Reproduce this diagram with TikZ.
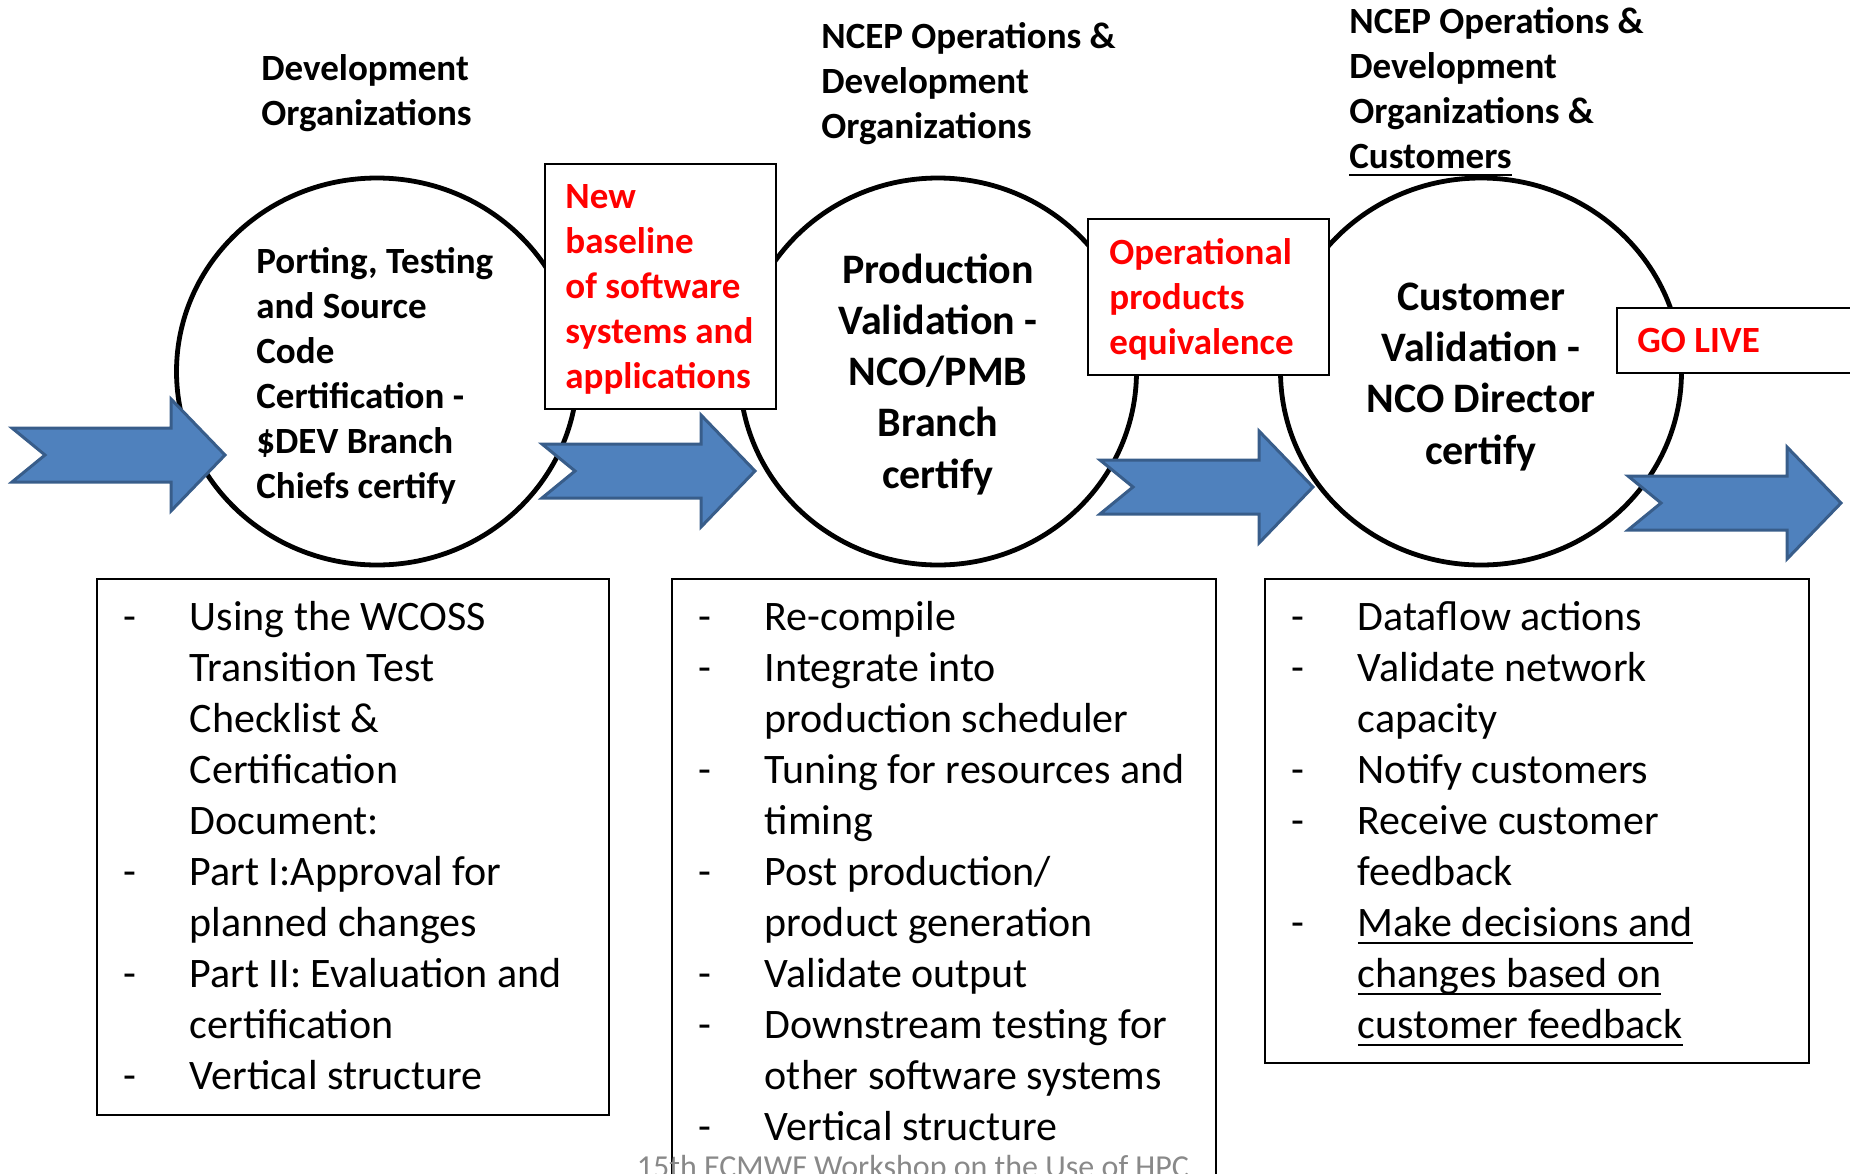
\documentclass[tikz,border=0pt]{standalone}
\usepackage{fontspec}
\setmainfont{Carlito}
\usepackage{tikz}
\usetikzlibrary{matrix, shapes.geometric}
\definecolor{arrowblue}{HTML}{4F81BD}
\definecolor{arrowedge}{HTML}{385D8A}
\definecolor{footgray}{HTML}{898989}
\newcommand{\ulined}[1]{\setbox0\hbox{#1}\rlap{\rule[-4pt]{\wd0}{1.2pt}}\box0}
\tikzset{
  stage/.style={ellipse, draw, line width=2.4pt, fill=white, inner sep=0pt},
  notebox/.style={rectangle, draw, line width=1pt, fill=white, inner sep=0pt},
  listbox/.style={rectangle, draw, line width=1pt, inner sep=0pt},
  headtext/.style={anchor=base west, align=left, inner sep=0pt, font=\bfseries\fontsize{18.5}{22.5}\selectfont},
  redtext/.style={headtext, text=red},
  stagetext/.style={anchor=base, align=center, inner sep=0pt, font=\bfseries\fontsize{21}{25.6}\selectfont},
  bluearrow/.style={fill=arrowblue, draw=arrowedge, line width=1.5pt},
  checklist/.style={matrix of nodes, anchor=north west, inner sep=0pt, column sep=0pt, row sep=0pt,
    nodes={anchor=base west, inner sep=0pt, text height=17pt, text depth=8.5pt, font=\fontsize{21}{25.5}\selectfont},
    column 1/.style={nodes={text width=33pt}}}
}
\begin{document}
\begin{tikzpicture}[x=0.5pt, y=-0.5pt]
\useasboundingbox (0,0) rectangle (1850,1173);
\node[stage, minimum width=200.5pt, minimum height=193.5pt] (port) at (377,371.5) {};
\node[stage, minimum width=198.5pt, minimum height=193.5pt] (prod) at (938,371.5) {};
\node[stage, minimum width=200.5pt, minimum height=193.5pt] (cust) at (1481,371.5) {};
\node[notebox, minimum width=115.5pt, minimum height=122.5pt] (baseline) at (660.5,286.5) {};
\node[notebox, minimum width=120.5pt, minimum height=78pt] (equiv) at (1208.5,297) {};
\node[notebox, minimum width=141.5pt, minimum height=32.5pt] (golive) at (1758.5,340.5) {};
\foreach \ax/\ay in {12/455, 542/471, 1100/487, 1628/503}
  \draw[bluearrow] (\ax,\ay-27) -- (\ax+159,\ay-27) -- (\ax+159,\ay-56) -- (\ax+213,\ay) -- (\ax+159,\ay+56) -- (\ax+159,\ay+27) -- (\ax,\ay+27) -- (\ax+33,\ay) -- cycle;
\node[headtext] (devorg) at (261,125) {Development\\Organizations};
\node[headtext] (opsorg) at (821,138) {NCEP Operations \&\\Development\\Organizations};
\node[headtext] (custorg) at (1349,168) {NCEP Operations \&\\Development\\Organizations \&\\\ulined{Customers}};
\node[headtext] (porttext) at (256,498) {Porting, Testing\\and Source\\Code\\Certification -\\\$DEV Branch\\Chiefs certify};
\node[redtext] (basetext) at (565,388) {New\\baseline\\of software\\systems and\\applications};
\node[redtext] (equivtext) at (1109,354) {Operational\\products\\equivalence};
\node[redtext] (golivetext) at (1637,352) {GO LIVE};
\node[stagetext] (prodtext) at (938,488) {Production\\Validation -\\NCO/PMB\\Branch\\certify};
\node[stagetext] (custtext) at (1481,464) {Customer\\Validation -\\NCO Director\\certify};
\node[listbox, minimum width=256pt, minimum height=268pt] (boxA) at (353,847) {};
\node[listbox, minimum width=272pt, minimum height=340pt] (boxB) at (944,919) {};
\node[listbox, minimum width=272pt, minimum height=242pt] (boxC) at (1537,821) {};
\matrix (listA) [checklist] at (123,596) {
- & Using the WCOSS \\
  & Transition Test \\
  & Checklist \& \\
  & Certification \\
  & Document: \\
- & Part I:Approval for \\
  & planned changes \\
- & Part II: Evaluation and \\
  & certification \\
- & Vertical structure \\
};
\matrix (listB) [checklist] at (698,596) {
- & Re-compile \\
- & Integrate into \\
  & production scheduler \\
- & Tuning for resources and \\
  & timing \\
- & Post production/ \\
  & product generation \\
- & Validate output \\
- & Downstream testing for \\
  & other software systems \\
- & Vertical structure \\
};
\matrix (listC) [checklist] at (1291,596) {
- & Dataflow actions \\
- & Validate network \\
  & capacity \\
- & Notify customers \\
- & Receive customer \\
  & feedback \\
- & \ulined{Make decisions and} \\
  & \ulined{changes based on} \\
  & \ulined{customer feedback} \\
};
\node[anchor=base, inner sep=0pt, text=footgray, font=\fontsize{16}{19.5}\selectfont] (footer) at (913,1177) {15th ECMWF Workshop on the Use of HPC};
\end{tikzpicture}
\end{document}
